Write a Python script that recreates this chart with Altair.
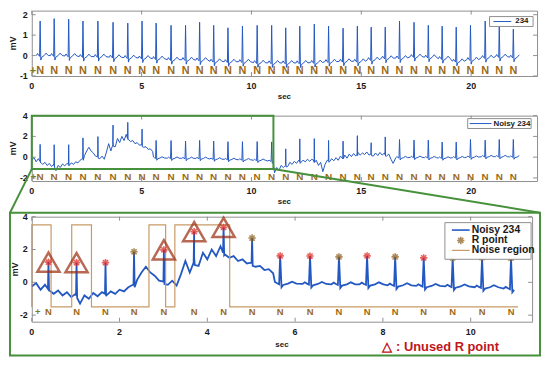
import altair as alt
import pandas as pd

# ---------------- data ----------------
beat_t = [0.38, 1.02, 1.68, 2.33, 3.01, 3.70, 4.37, 5.02, 5.66, 6.34, 7.00, 7.64,
          8.28, 8.93, 9.59, 10.26, 10.92, 11.56, 12.20, 12.86, 13.51, 14.17, 14.82,
          15.45, 16.09, 16.74, 17.40, 18.05, 18.68, 19.32, 19.97, 20.64, 21.28, 21.92]
# clean record "234"
clean_peak = [1.69, 1.81, 1.78, 1.69, 1.69, 1.63, 1.59, 1.69, 1.59, 1.48, 1.48, 1.63,
              1.48, 1.36, 1.44, 1.48, 1.48, 1.36, 1.44, 1.54, 1.44, 1.34, 1.44, 1.39,
              1.39, 1.69, 1.63, 1.48, 1.44, 1.39, 1.48, 1.69, 1.54, 1.29]
clean_base = [0.0, 0.0, -0.02, -0.05, -0.05, -0.08, -0.1, -0.12, -0.15, -0.2, -0.2, -0.22,
              -0.28, -0.3, -0.3, -0.35, -0.36, -0.36, -0.36, -0.34, -0.3, -0.28, -0.28, -0.2,
              -0.13, -0.12, -0.05, -0.08, -0.15, -0.28, -0.2, -0.1, -0.05, -0.08]
# noisy record "Noisy 234"
noisy_peak = [1.23, 1.2, 1.2, 1.86, 1.98, 3.09, 3.35, 2.7, 1.61, 1.6, 1.55, 1.61,
              1.55, 1.49, 1.49, 1.5, 1.47, 0.8, 1.76, 1.79, 1.61, 1.54, 2.07, 1.39,
              1.95, 1.7, 1.64, 1.64, 1.45, 1.45, 1.7, 1.64, 1.7, 1.7]
noisy_base = [-0.4, -0.8, -0.7, -0.15, 0.05, 1.2, 1.8, 1.15, -0.08, -0.1, -0.12, -0.12,
              -0.18, -0.22, -0.25, -0.3, -0.38, -0.8, -0.45, -0.35, -0.35, 0.0, 0.3, 0.3,
              0.25, -0.05, -0.02, -0.05, -0.08, -0.05, 0.0, 0.05, 0.05, 0.02]
sample_step = 0.1
noise1_start = 0.0
noise1 = [-0.25, -0.05, -0.45, -0.15, -0.5, -0.7, -0.5, -0.8, -0.6, -0.9,
          -0.7, -1.3, -0.8, -1.0, -0.65, -0.85, -0.6, -0.8, -0.55, -0.7,
          -0.45, -0.55, -0.3, -0.15, 0.15, 0.6, 0.95, 0.6, 0.4, 0.1,
          0.05, -0.15, 0.1, -0.2, 0.5, 1.3, 0.6, 1.5, 1.0, 1.8,
          1.4, 2.0, 1.6, 2.2, 1.7, 1.5, 1.6, 1.3, 1.4, 1.15,
          1.2, 0.95, 1.0, 0.75, 0.8, 0.55]
noise2_start = 11.05
noise2 = [-1.5, -1.0, -1.3, -0.8, -1.0, -0.7, -0.9, -0.5, -0.7, -0.4,
          -0.6, -0.3, -0.5, -0.3, -0.45, -0.2, -0.4, -0.2, -0.5, -0.3,
          -0.8, -0.5, -1.4, -0.7, -0.3, -0.45, -0.15, -0.35, -0.05, -0.3,
          0.1, -0.15, 0.2, -0.1, 0.3, 0.05, 0.35, 0.1, 0.45, 0.2,
          0.4, 0.25, 0.5, 0.2, 0.45, 0.1, 0.4, 0.15, 0.45, 0.2,
          0.4, 0.1, 0.3, -0.2, -0.6]
# beat morphology (offsets from beat time / baseline)
wave_dt = [-0.17, -0.12, -0.07, -0.025, 0.0, 0.03, 0.07, 0.18, 0.27, 0.37]
wave_dv = [0.0, 0.1, 0.02, -0.04, None, -0.22, -0.08, 0.0, 0.12, 0.0]
spike_dt = [-0.012, 0.0, 0.014]
spike_dv = [0.0, None, -0.15]
# R points of the zoomed panel
r_kind = ["A", "A", "A", "B", "A", "A", "A", "B", "A", "A", "B", "A", "B", "A", "B", "B", "B"]
r_unused = [1, 1, 0, 0, 1, 1, 1, 0, 0, 0, 0, 0, 0, 0, 0, 0, 0]
# noise region indicator
noise_reg_t = [0, 0, 0.44, 0.44, 0.91, 0.91, 1.36, 1.36, 2.67, 2.67, 3.05, 3.05, 3.26, 3.26, 4.51, 4.51, 11.08]
noise_reg_v = [-1.5, 3.5, 3.5, -1.5, -1.5, 3.5, 3.5, -1.5, -1.5, 3.5, 3.5, -1.5, -1.5, 3.5, 3.5, -1.5, -1.5]
plus_t = [0.2]
top_xticks = [0, 5, 10, 15, 20]
top_yticks = [-1, 0, 1, 2]
mid_yticks = [-2, 0, 2, 4]
bot_xticks = [0, 2, 4, 6, 8, 10]
bot_yticks = [-2, 0, 2, 4]

# ---------------- styles ----------------
FONT = "Liberation Sans"
BLUE = "#2358c2"
NCOL = "#9c6a16"
PCOL = "#7a7a2a"
GREEN = "#47903c"
AX = "#8f8f8f"
RED = "#e0201b"
DBROWN = "#8a5a14"
TRI = "#9a2a0c"
NREG = "#c89a66"
TXT = "#1a1a1a"
ASTER = "M-1,0L1,0M0,-1L0,1M-0.7,-0.7L0.7,0.7M-0.7,0.7L0.7,-0.7"

W, W3 = 510, 505
H1, H2, H3 = 66, 66, 106


def build(peaks, bases, noisy):
    regs = []
    if noisy:
        regs = [(noise1_start, noise1_start + sample_step * (len(noise1) - 1)),
                (noise2_start, noise2_start + sample_step * (len(noise2) - 1))]

    def inside(t):
        return any(a <= t <= b for a, b in regs)

    pts = []
    for t, pk, b in zip(beat_t, peaks, bases):
        if inside(t):
            for dt, dv in zip(spike_dt, spike_dv):
                pts.append((t + dt, pk if dv is None else b + dv))
        else:
            for dt, dv in zip(wave_dt, wave_dv):
                if inside(t + dt):
                    continue
                pts.append((t + dt, pk if dv is None else b + dv))
    if noisy:
        for start, vals in ((noise1_start, noise1), (noise2_start, noise2)):
            for i, v in enumerate(vals):
                pts.append((start + sample_step * i, v))
    pts.sort(key=lambda p: p[0])
    return pd.DataFrame({"t": [p[0] for p in pts], "v": [p[1] for p in pts],
                         "o": list(range(len(pts)))})


top_df = build(clean_peak, clean_base, False)
top_df = top_df[top_df.t <= 22.2]
noisy_df = build(noisy_peak, noisy_base, True)
mid_df = noisy_df[noisy_df.t <= 22.2]
bot_df = noisy_df[noisy_df.t <= 11.0]

beats_df = pd.DataFrame({"t": beat_t})
bot_beats_df = pd.DataFrame({"t": [t for t in beat_t if t <= 11.2]})
plus_df = pd.DataFrame({"t": plus_t})
r_df = pd.DataFrame({"t": beat_t[:len(r_kind)], "v": noisy_peak[:len(r_kind)], "k": r_kind,
                     "u": r_unused})
tri_df = r_df[r_df.u == 1]
nreg_df = pd.DataFrame({"t": noise_reg_t, "v": noise_reg_v, "o": list(range(len(noise_reg_t)))})
one = pd.DataFrame({"d": [0]})


def X(xs):
    return alt.X("t:Q", scale=xs, axis=None)


def Y(ys):
    return alt.Y("v:Q", scale=ys, axis=None)


def axes_marks(xs, ys, xt, yt, w, h, lab_dy, title_dy, mv_x):
    """tick marks (inward), tick labels and axis titles drawn through the scales"""
    L = 4
    xd = pd.DataFrame({"t": xt, "lab": [str(v) for v in xt]})
    yd = pd.DataFrame({"v": yt, "lab": [str(v) for v in yt]})
    txt = dict(font=FONT, fontWeight="bold", color=TXT, baseline="middle")
    return [
        alt.Chart(xd).mark_rule(color=AX).encode(x=X(xs), y=alt.value(h), y2=alt.value(h - L)),
        alt.Chart(xd).mark_rule(color=AX).encode(x=X(xs), y=alt.value(0), y2=alt.value(L)),
        alt.Chart(yd).mark_rule(color=AX).encode(y=Y(ys), x=alt.value(0), x2=alt.value(L)),
        alt.Chart(yd).mark_rule(color=AX).encode(y=Y(ys), x=alt.value(w), x2=alt.value(w - L)),
        alt.Chart(xd).mark_text(fontSize=9, align="center", **txt).encode(
            x=X(xs), y=alt.value(h + lab_dy), text="lab:N"),
        alt.Chart(yd).mark_text(fontSize=9, align="right", **txt).encode(
            y=Y(ys), x=alt.value(-4), text="lab:N"),
        alt.Chart(one).mark_text(text="sec", fontSize=8, align="center", **txt).encode(
            x=alt.value(w / 2), y=alt.value(h + title_dy)),
        alt.Chart(one).mark_text(text="mV", fontSize=9, align="center", angle=270, **txt).encode(
            x=alt.value(mv_x), y=alt.value(h / 2)),
    ]


def labels(df, xs, ys, yv, size):
    n = alt.Chart(df).mark_text(text="N", font=FONT, fontWeight="bold", fontSize=size,
                                color=NCOL).encode(
        x=X(xs), y=alt.YDatum(yv, scale=ys, axis=None))
    p = alt.Chart(plus_df).mark_text(text="+", font=FONT, fontWeight="bold", fontSize=size,
                                     color=PCOL, align="right").encode(
        x=X(xs), y=alt.YDatum(yv, scale=ys, axis=None))
    return [n, p]


def legend_line(x1, x2, y, color, width):
    return alt.Chart(one).mark_rule(color=color, strokeWidth=width).encode(
        x=alt.value(x1), x2=alt.value(x2), y=alt.value(y), y2=alt.value(y))


def legend_text(x, y, text, size):
    return alt.Chart(one).mark_text(text=text, font=FONT, fontWeight="bold", fontSize=size,
                                    color=TXT, align="left", baseline="middle").encode(
        x=alt.value(x), y=alt.value(y))


def legend_box(x1, x2, y1, y2):
    return alt.Chart(one).mark_rect(fill="white", stroke=AX, strokeWidth=1).encode(
        x=alt.value(x1), x2=alt.value(x2), y=alt.value(y1), y2=alt.value(y2))


# ---------------- top panel ----------------
xs_full = alt.Scale(domain=[0, 23], nice=False, zero=False)
ys_top = alt.Scale(domain=[-1, 2.2], nice=False, zero=False)
top = alt.layer(
    alt.Chart(top_df).mark_line(color=BLUE, strokeWidth=1).encode(
        x=X(xs_full), y=Y(ys_top), order="o:Q"),
    *labels(beats_df, xs_full, ys_top, -0.78, 11),
    *axes_marks(xs_full, ys_top, top_xticks, top_yticks, W, H1, 10, 21, -19),
    legend_box(462, 506, 6, 16),
    legend_line(466, 484, 11, BLUE, 1),
    legend_text(488, 11, "234", 8),
    # invisible spacer that fixes the gap to the next panel
    alt.Chart(one).mark_rule(strokeOpacity=0).encode(
        x=alt.value(100), x2=alt.value(101), y=alt.value(H1 + 38), y2=alt.value(H1 + 38)),
).properties(width=W, height=H1)

# ---------------- middle panel ----------------
ys_mid = alt.Scale(domain=[-2.3, 4], nice=False, zero=False)
mid = alt.layer(
    alt.Chart(mid_df).mark_line(color=BLUE, strokeWidth=1).encode(
        x=X(xs_full), y=Y(ys_mid), order="o:Q"),
    *labels(beats_df, xs_full, ys_mid, -1.9, 10),
    *axes_marks(xs_full, ys_mid, top_xticks, mid_yticks, W, H2, 10, 21, -19),
    legend_box(440, 504, 3, 13),
    legend_line(442, 464, 8, BLUE, 1),
    legend_text(466, 8, "Noisy 234", 8),
    alt.Chart(one).mark_rect(fillOpacity=0, stroke=GREEN, strokeWidth=2).encode(
        x=alt.XDatum(0, scale=xs_full, axis=None), x2=alt.X2Datum(11),
        y=alt.YDatum(4, scale=ys_mid, axis=None), y2=alt.Y2Datum(-1.15)),
    alt.Chart(one).mark_rule(color=GREEN, strokeWidth=2).encode(
        x=alt.XDatum(0, scale=xs_full, axis=None), y=alt.YDatum(-1.15, scale=ys_mid, axis=None),
        x2=alt.value(-22), y2=alt.value(98)),
    alt.Chart(one).mark_rule(color=GREEN, strokeWidth=2).encode(
        x=alt.XDatum(11, scale=xs_full, axis=None), y=alt.YDatum(-1.15, scale=ys_mid, axis=None),
        x2=alt.value(513), y2=alt.value(98)),
).properties(width=W, height=H2)

# ---------------- bottom (zoomed) panel ----------------
xs_bot = alt.Scale(domain=[0, 11.4], nice=False, zero=False)
ys_bot = alt.Scale(domain=[-2.4, 4], nice=False, zero=False)
bot = alt.layer(
    alt.Chart(bot_df).mark_line(color=BLUE, strokeWidth=1.8).encode(
        x=X(xs_bot), y=Y(ys_bot), order="o:Q"),
    alt.Chart(one).mark_rect(fillOpacity=0, stroke=GREEN, strokeWidth=2).encode(
        x=alt.value(-22), x2=alt.value(513), y=alt.value(-4), y2=alt.value(140)),
    alt.Chart(nreg_df).mark_line(color=NREG, strokeWidth=1.2).encode(
        x=X(xs_bot), y=Y(ys_bot), order="o:Q"),
    alt.Chart(r_df).mark_point(shape=ASTER, size=55, filled=False, strokeWidth=1.6).encode(
        x=X(xs_bot), y=Y(ys_bot),
        color=alt.Color("k:N", scale=alt.Scale(domain=["A", "B"], range=[RED, DBROWN]),
                        legend=None)),
    alt.Chart(tri_df).mark_point(shape="triangle-up", size=500, filled=False, strokeWidth=2.5,
                                 color=TRI).encode(x=X(xs_bot), y=Y(ys_bot)),
    *labels(bot_beats_df, xs_bot, ys_bot, -1.8, 9.5),
    *axes_marks(xs_bot, ys_bot, bot_xticks, bot_yticks, W3, H3, 10, 24, -17),
    legend_box(417, 504, 6, 43),
    legend_line(424, 442, 13.5, BLUE, 1.6),
    alt.Chart(one).mark_point(shape=ASTER, size=55, filled=False, strokeWidth=1.6,
                              color=DBROWN).encode(x=alt.value(433), y=alt.value(24)),
    legend_line(424, 442, 34, NREG, 1.2),
    legend_text(444, 13.5, "Noisy 234", 10.5),
    legend_text(444, 24, "R point", 10.5),
    legend_text(444, 34, "Noise region", 10.5),
    alt.Chart(one).mark_text(text="\u25b3 : Unused R point", font=FONT, fontWeight="bold",
                             fontSize=13, color="#c0161b", align="left",
                             baseline="middle").encode(x=alt.value(354), y=alt.value(H3 + 26)),
).properties(width=W3, height=H3)

chart = alt.vconcat(top, mid, bot, spacing=-4).properties(
    padding=0, background="white"
).configure_view(stroke=AX, strokeWidth=1)

chart.save("out.html", embed_options={"renderer": "svg", "actions": False})
